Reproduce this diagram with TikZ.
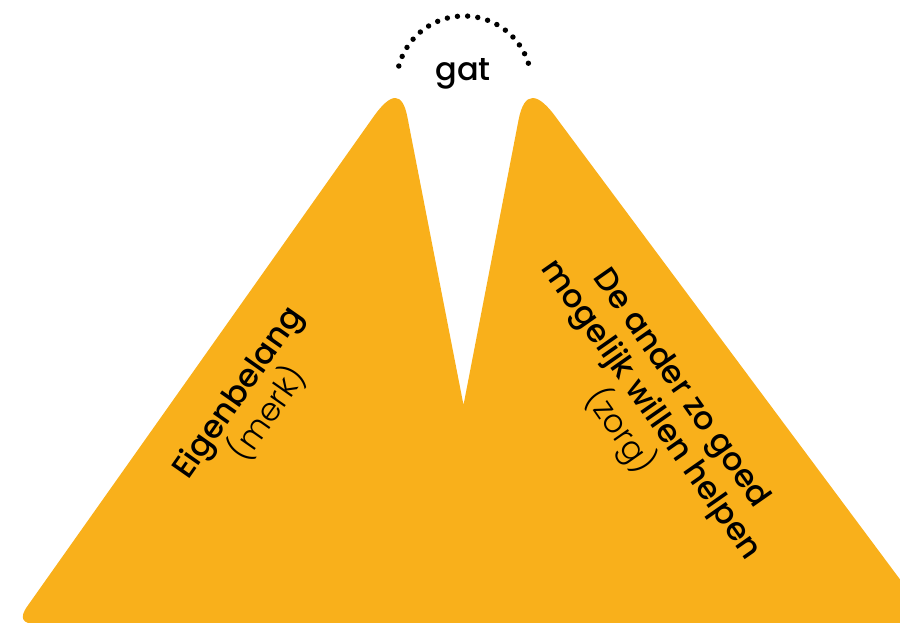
\documentclass[tikz,border=0pt]{standalone}
\usepackage{fontspec}
\usetikzlibrary{calc}
\newfontfamily\fmed{Poppins Medium}
\newfontfamily\flight{Poppins Light}
\definecolor{peak}{RGB}{249,176,27}
\tikzset{
  label main/.style={font=\fmed\fontsize{32}{38}\selectfont, anchor=base, inner sep=0pt, text=black},
  label sub/.style={font=\flight\fontsize{32}{38}\selectfont, anchor=base, inner sep=0pt, text=black},
}
\begin{document}
\begin{tikzpicture}[x=1pt, y=-1pt]
  \useasboundingbox (0,0) rectangle (900,622);
  \clip (0,0) rectangle (900,622);

  % two peaks with a gap between them
  \fill[peak]
    (960,660) -- (960,624) -- (36.8,624)
    .. controls (22.1,624) and (18.9,618) .. (27.5,606)
    -- (373.6,116.6) .. controls (391.2,91.8) and (402.4,91.8) .. (407.3,116.6)
    -- (463.5,405)
    -- (518.5,120.2) .. controls (524.2,90.6) and (537.4,90.6) .. (558.1,120.2)
    -- (960,660) -- cycle;

  % dotted arc over the gap
  \coordinate (arcc) at (464,83.5);
  \foreach \i in {0,...,17}{
    \fill ($(arcc)+({165-\i*147.5/17}:67.5pt)$) circle (2.7);
  }
  \node[label main] (gat) at (463,80) {gat};

  % left slope
  \node[label main, rotate=55] (eigen) at (246,398.3) {Eigenbelang};
  \node[label sub, rotate=55] (merk) at (276.3,419.6) {(merk)};

  % right slope
  \node[label main, rotate=-55] (ander) at (674,393.6) {De ander zo goed};
  \node[label main, rotate=-55] (helpen) at (643.5,415) {mogelijk willen helpen};
  \node[label sub, rotate=-55] (zorg) at (611.8,437.2) {(zorg)};
\end{tikzpicture}
\end{document}
